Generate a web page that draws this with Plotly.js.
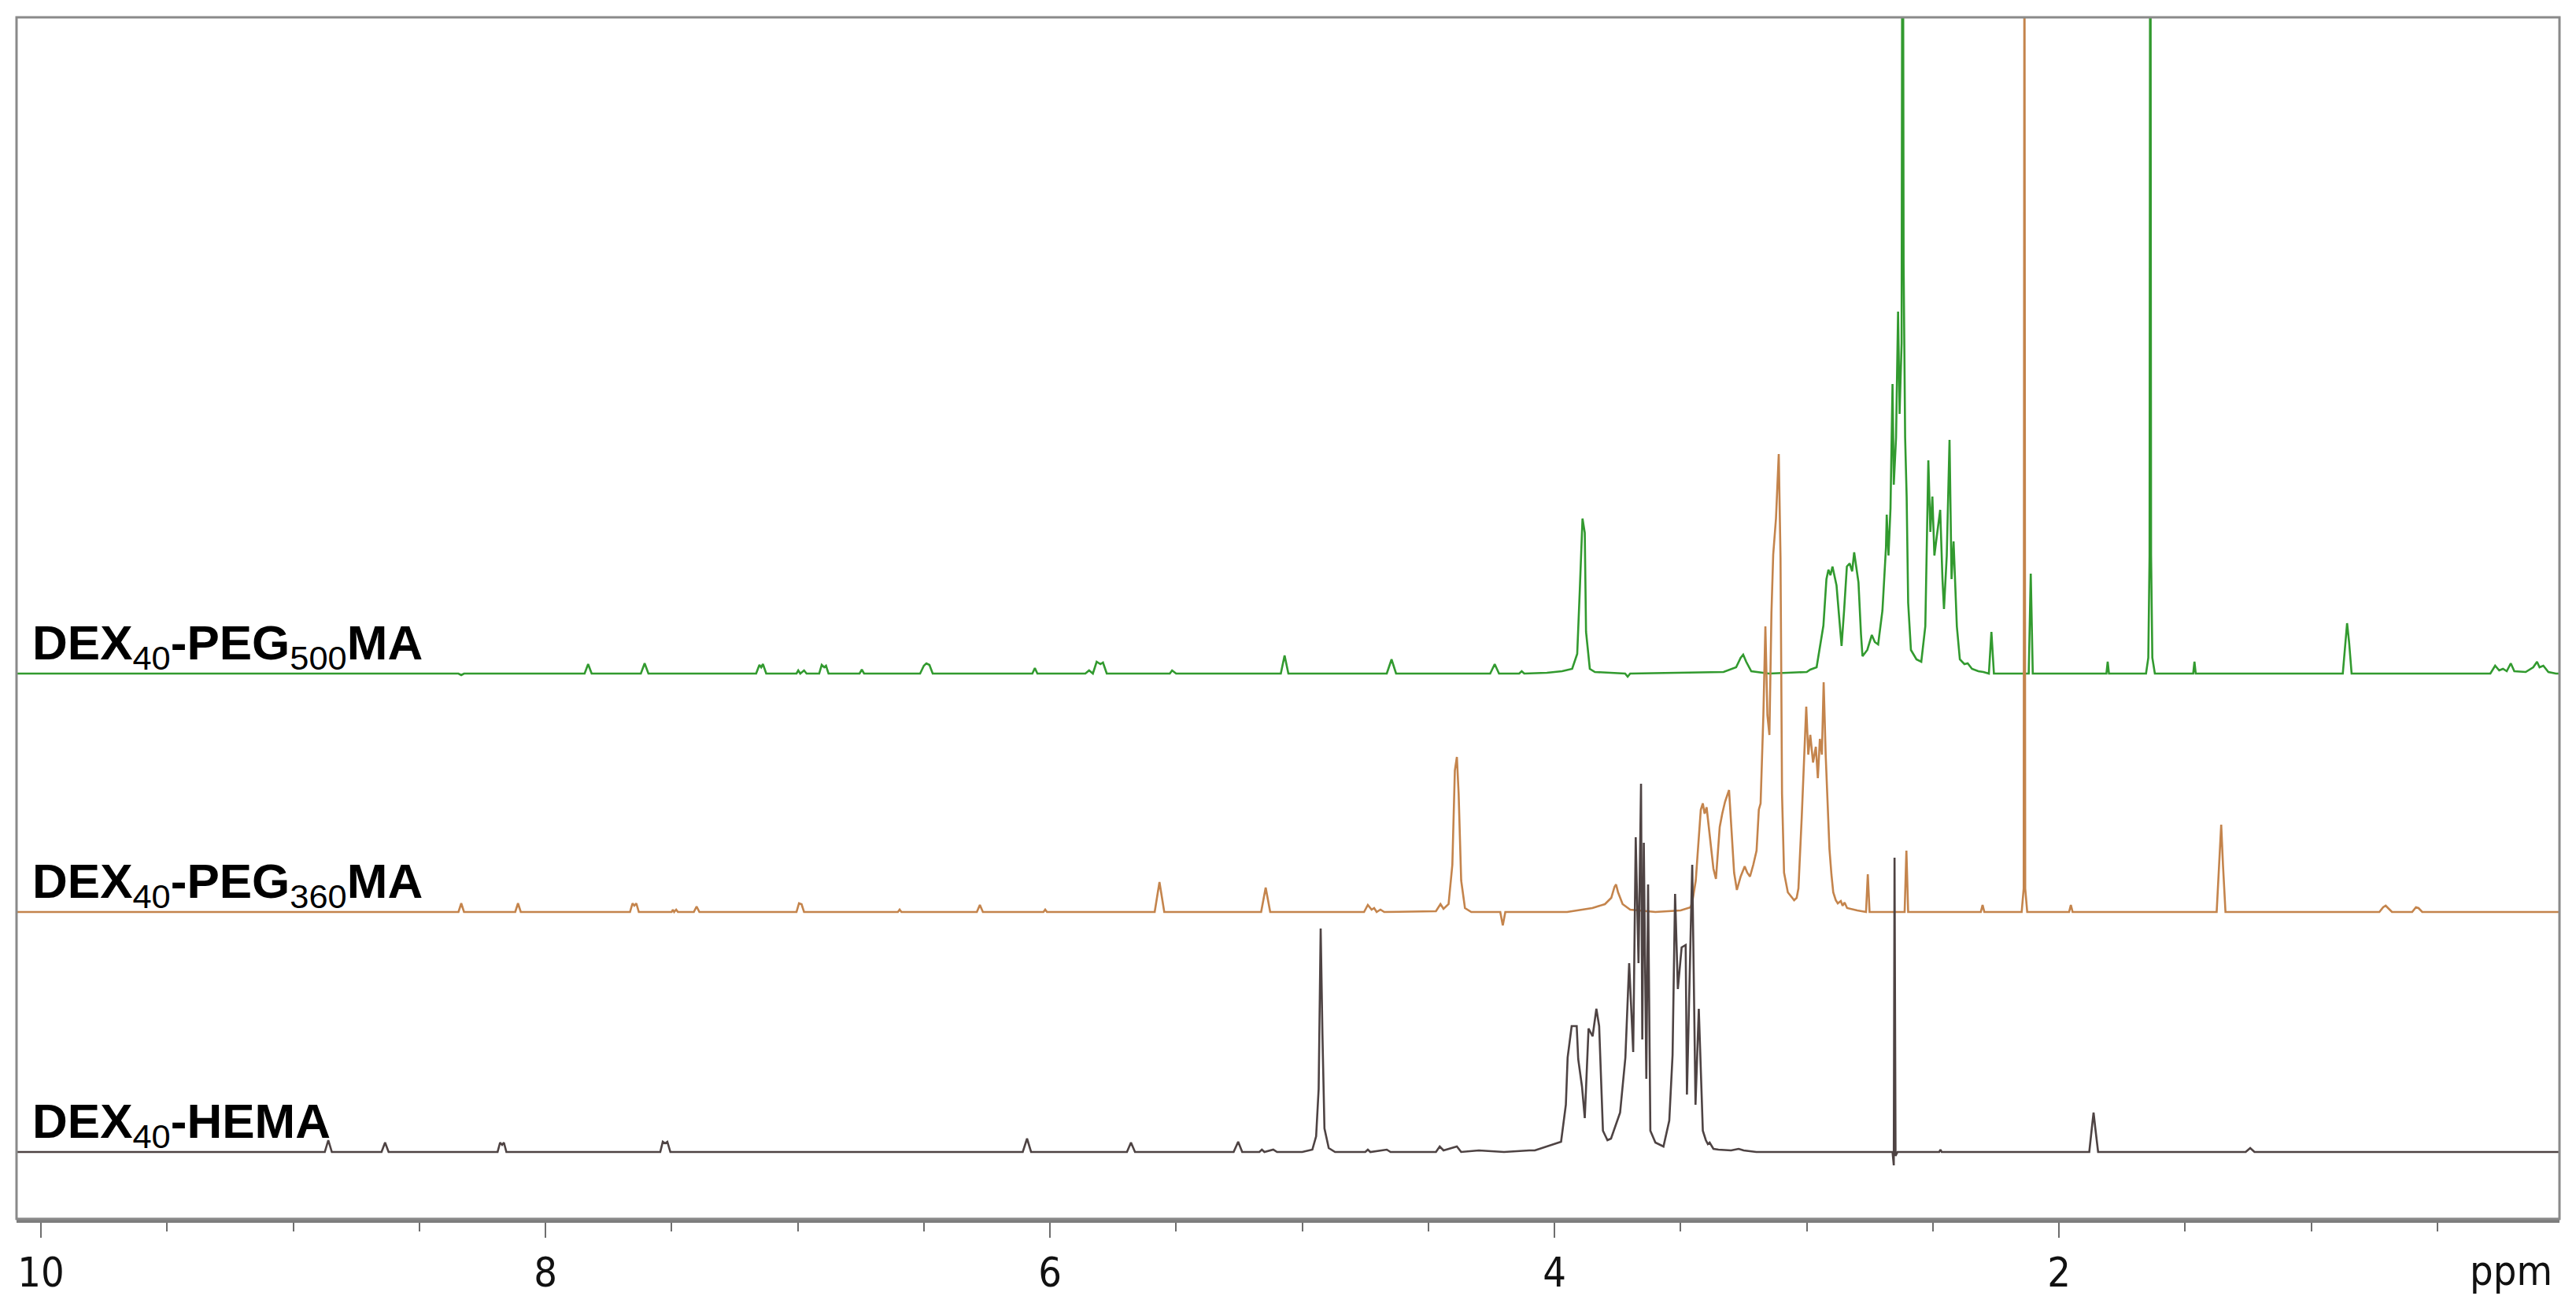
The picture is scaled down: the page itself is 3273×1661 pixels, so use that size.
<!DOCTYPE html>
<html>
<head>
<meta charset="utf-8">
<script src="https://cdn.plot.ly/plotly-3.0.1.min.js"></script>
<style>
  html, body { margin: 0; padding: 0; background: #fff; }
  #nmr { width: 3273px; height: 1661px; }
</style>
</head>
<body>
<div id="nmr"></div>
<script>
// 1H NMR spectra, [ppm, intensity] (intensity in arbitrary units)
const peg500Points = [
  [10.1, 0], [8.345, 0], [8.334, -2], [8.323, 0],
  [7.845, 0], [7.831, 12], [7.817, 0],
  [7.622, 0], [7.607, 13], [7.592, 0],
  [7.165, 0], [7.152, 11], [7.145, 8], [7.138, 12], [7.125, 0],
  [7.005, 0], [6.998, 4], [6.99, 0], [6.975, 4], [6.965, 0],
  [6.915, 0], [6.905, 11], [6.895, 8], [6.888, 10], [6.878, 0],
  [6.755, 0], [6.746, 5], [6.737, 0],
  [6.515, 0], [6.5, 10], [6.49, 13], [6.478, 11], [6.465, 0],
  [6.07, 0], [6.06, 7], [6.05, 0],
  [5.86, 0], [5.845, 4], [5.83, 0], [5.815, 15], [5.8, 12], [5.79, 14], [5.775, 0],
  [5.525, 0], [5.516, 4], [5.5, 0],
  [5.085, 0], [5.07, 23], [5.055, 0],
  [4.665, 0], [4.646, 18], [4.628, 0],
  [4.255, 0], [4.237, 12], [4.22, 0],
  [4.14, 0], [4.13, 3], [4.12, 0],
  [4.03, 1], [3.97, 3], [3.93, 6], [3.91, 25], [3.9, 104], [3.889, 197], [3.88, 179],
  [3.875, 53], [3.86, 6], [3.84, 2],
  [3.72, 0], [3.71, -4], [3.7, 0],
  [3.33, 2], [3.28, 8], [3.262, 20], [3.252, 24], [3.24, 15], [3.22, 3], [3.15, 0],
  [3.0, 2], [2.986, 5], [2.961, 8], [2.945, 40], [2.934, 61], [2.922, 120], [2.914, 132],
  [2.906, 125], [2.898, 136], [2.882, 112], [2.87, 60], [2.862, 35], [2.852, 80],
  [2.841, 136], [2.83, 140], [2.82, 130], [2.812, 154], [2.795, 116], [2.785, 50],
  [2.779, 22], [2.76, 30], [2.742, 49], [2.73, 40], [2.717, 37], [2.7, 80], [2.686, 160],
  [2.683, 202], [2.676, 150], [2.668, 210], [2.66, 368], [2.655, 240], [2.646, 300],
  [2.638, 460], [2.632, 330], [2.624, 420], [2.62, 1300], [2.616, 520], [2.61, 300],
  [2.604, 225], [2.598, 90], [2.587, 30], [2.565, 18],
  [2.546, 15], [2.53, 60], [2.518, 271], [2.51, 180], [2.502, 225], [2.494, 150],
  [2.487, 168], [2.479, 190], [2.471, 208], [2.462, 120], [2.456, 82], [2.445, 150],
  [2.434, 297], [2.426, 120], [2.418, 168], [2.405, 60], [2.393, 18], [2.375, 12],
  [2.362, 13], [2.345, 6], [2.32, 3], [2.3, 2],
  [2.278, 0], [2.268, 53], [2.258, 0],
  [2.12, 0], [2.112, 127], [2.104, 0],
  [1.812, 0], [1.807, 15], [1.802, 0],
  [1.655, 0], [1.646, 20], [1.641, 150], [1.638, 1300], [1.635, 150], [1.63, 20], [1.62, 0],
  [1.468, 0], [1.463, 15], [1.458, 0],
  [0.875, 0], [0.865, 40], [0.858, 64], [0.85, 40], [0.84, 0],
  [0.29, 0], [0.271, 10], [0.255, 4], [0.24, 6], [0.225, 3], [0.209, 13], [0.195, 3],
  [0.15, 2], [0.12, 8], [0.105, 15], [0.095, 8], [0.08, 10], [0.06, 2], [0.03, 0], [0.0, 0]
];

const peg360Points = [
  [10.1, 0], [8.345, 0], [8.334, 11], [8.323, 0],
  [8.12, 0], [8.109, 11], [8.098, 0],
  [7.665, 0], [7.655, 11], [7.648, 8], [7.64, 11], [7.63, 0],
  [7.5, 0], [7.495, 3], [7.49, 0], [7.482, 3], [7.475, 0],
  [7.412, 0], [7.401, 7], [7.39, 0],
  [7.005, 0], [6.995, 11], [6.985, 10], [6.975, 0],
  [6.603, 0], [6.596, 3], [6.589, 0],
  [6.29, 0], [6.278, 9], [6.266, 0],
  [6.026, 0], [6.019, 3], [6.012, 0],
  [5.585, 0], [5.566, 38], [5.547, 0],
  [5.163, 0], [5.145, 31], [5.127, 0],
  [4.755, 0], [4.74, 9], [4.725, 3], [4.715, 5], [4.705, 0], [4.69, 3], [4.675, 0],
  [4.47, 1], [4.452, 10], [4.44, 4], [4.42, 10], [4.405, 60], [4.395, 180], [4.387, 197],
  [4.38, 150], [4.37, 40], [4.355, 5], [4.33, 0],
  [4.215, 0], [4.205, -17], [4.195, 0],
  [3.95, 0], [3.85, 5], [3.8, 10], [3.775, 18], [3.762, 32], [3.756, 35], [3.748, 25],
  [3.73, 10], [3.7, 3], [3.6, 0], [3.5, 2], [3.46, 6], [3.454, 12],
  [3.44, 40], [3.433, 72], [3.42, 130], [3.412, 138], [3.405, 125], [3.397, 133],
  [3.385, 100], [3.37, 55], [3.36, 42], [3.352, 80], [3.345, 108], [3.335, 125],
  [3.324, 140], [3.308, 155], [3.298, 105], [3.288, 50], [3.277, 28], [3.262, 45],
  [3.246, 58], [3.236, 50], [3.225, 45], [3.212, 60], [3.199, 78], [3.19, 130],
  [3.183, 138], [3.179, 174], [3.172, 250], [3.164, 363], [3.156, 250], [3.148, 225],
  [3.14, 380], [3.133, 454], [3.122, 500], [3.111, 582], [3.104, 450], [3.098, 150],
  [3.09, 50], [3.075, 25], [3.064, 21], [3.05, 15], [3.04, 18], [3.033, 30], [3.02, 120],
  [3.01, 200], [3.002, 261], [2.994, 200], [2.986, 225], [2.975, 190], [2.964, 210],
  [2.956, 170], [2.948, 220], [2.94, 200], [2.933, 292], [2.925, 200], [2.917, 138],
  [2.91, 80], [2.902, 47], [2.895, 25], [2.885, 15], [2.877, 11], [2.865, 14],
  [2.858, 8], [2.85, 12], [2.84, 5], [2.8, 2],
  [2.765, 0], [2.758, 48], [2.751, 0],
  [2.612, 0], [2.605, 78], [2.598, 0],
  [2.31, 0], [2.303, 9], [2.296, 0],
  [2.148, 0], [2.14, 30], [2.137, 1400], [2.134, 30], [2.126, 0],
  [1.96, 0], [1.953, 9], [1.946, 0],
  [1.375, 0], [1.365, 60], [1.357, 111], [1.35, 60], [1.34, 0],
  [0.73, 0], [0.715, 6], [0.705, 8], [0.695, 5], [0.68, 0],
  [0.6, 0], [0.585, 6], [0.575, 5], [0.56, 0], [0.0, 0]
];

const hemaPoints = [
  [10.1, 0], [8.875, 0], [8.861, 15], [8.847, 0],
  [8.65, 0], [8.636, 12], [8.622, 0],
  [8.19, 0], [8.18, 12], [8.172, 9], [8.165, 12], [8.155, 0],
  [7.545, 0], [7.535, 13], [7.526, 11], [7.517, 13], [7.505, 0],
  [6.108, 0], [6.091, 17], [6.075, 0],
  [5.695, 0], [5.679, 12], [5.663, 0],
  [5.272, 0], [5.254, 13], [5.238, 0],
  [5.17, 0], [5.16, 3], [5.15, 0], [5.115, 3], [5.1, 0],
  [5.0, 0], [4.96, 3], [4.945, 20], [4.935, 80], [4.927, 284], [4.92, 150], [4.912, 30],
  [4.895, 5], [4.87, 0],
  [4.75, 0], [4.74, 3], [4.73, 0], [4.665, 3], [4.65, 0],
  [4.47, 0], [4.455, 7], [4.44, 2], [4.387, 7], [4.37, 0], [4.3, 2], [4.2, 0],
  [4.1, 2], [4.078, 2], [3.974, 13], [3.955, 60], [3.948, 120], [3.932, 160], [3.912, 160],
  [3.906, 118], [3.891, 83], [3.88, 43], [3.865, 157], [3.849, 147], [3.834, 182],
  [3.823, 160], [3.808, 27], [3.79, 15], [3.776, 17], [3.74, 50], [3.719, 120],
  [3.704, 240], [3.688, 127], [3.678, 400], [3.667, 240], [3.657, 468], [3.652, 143],
  [3.646, 393], [3.636, 93], [3.629, 340], [3.62, 27], [3.6, 12], [3.568, 7],
  [3.545, 40], [3.532, 123], [3.522, 328], [3.511, 207], [3.496, 260], [3.48, 263],
  [3.475, 73], [3.454, 365], [3.441, 60], [3.428, 182], [3.412, 27], [3.4, 15],
  [3.392, 10], [3.385, 12], [3.37, 4], [3.35, 3], [3.3, 2], [3.27, 4], [3.25, 2], [3.2, 0],
  [2.66, 0], [2.655, -17], [2.652, 374], [2.648, -5], [2.64, 0],
  [2.475, 0], [2.47, 3], [2.465, 0],
  [1.88, 0], [1.87, 30], [1.863, 50], [1.856, 30], [1.845, 0],
  [1.26, 0], [1.242, 5], [1.225, 0], [0.0, 0]
];

const seriesNames = [
  "<b>DEX</b><sub>40</sub><b>-PEG</b><sub>500</sub><b>MA</b>",
  "<b>DEX</b><sub>40</sub><b>-PEG</b><sub>360</sub><b>MA</b>",
  "<b>DEX</b><sub>40</sub><b>-HEMA</b>"
];
const tickPpm = [10, 8, 6, 4, 2];
const tickLabels = ["10", "8", "6", "4", "2"];

// stacking of the three spectra (vertical shift of each baseline)
const offsets = [693, 390, 85];
const colors = ["#329a2f", "#c4844c", "#4e4343"];

const spectrumTrace = function (points, offset, color) {
  return {
    x: points.map((p) => p[0]),
    y: points.map((p) => p[1] + offset),
    type: "scatter",
    mode: "lines",
    line: { color: color, width: 2.6 },
    hoverinfo: "skip",
    showlegend: false,
  };
};

let data = [
  spectrumTrace(peg500Points, offsets[0], colors[0]),
  spectrumTrace(peg360Points, offsets[1], colors[1]),
  spectrumTrace(hemaPoints, offsets[2], colors[2]),
];

let annotations = seriesNames.map((name, i) => ({
  text: name,
  xref: "paper",
  x: 0.0055,
  xanchor: "left",
  yref: "y",
  y: offsets[i],
  yanchor: "bottom",
  yshift: -6,
  showarrow: false,
  font: { family: "Liberation Sans, Arial, sans-serif", size: 62, color: "#000" },
}));

annotations.push({
  text: "ppm",
  xref: "paper",
  x: 0.981,
  xanchor: "center",
  yref: "paper",
  y: -0.043,
  yanchor: "middle",
  showarrow: false,
  font: { family: "Liberation Sans Narrow, DejaVu Sans Condensed, Liberation Sans, sans-serif", size: 52, color: "#111" },
});

let layout = {
  width: 3273,
  height: 1661,
  margin: { l: 21, r: 21, t: 22, b: 112 },
  paper_bgcolor: "#fff",
  plot_bgcolor: "#fff",
  showlegend: false,
  xaxis: {
    range: [10.097, 0.016],
    tickmode: "array",
    tickvals: tickPpm,
    ticktext: tickLabels,
    ticks: "outside",
    ticklen: 19,
    tickwidth: 2,
    tickcolor: "#6e6e6e",
    minor: { tick0: 0, dtick: 0.5, ticks: "outside", ticklen: 11, tickwidth: 2, tickcolor: "#6e6e6e" },
    showline: true,
    linecolor: "#7d7d7d",
    linewidth: 5,
    showgrid: false,
    zeroline: false,
    tickfont: { family: "Liberation Sans Narrow, DejaVu Sans Condensed, Liberation Sans, sans-serif", size: 52, color: "#111" },
  },
  yaxis: {
    range: [0, 1527],
    visible: false,
    showgrid: false,
    zeroline: false,
  },
  shapes: [
    {
      type: "rect",
      xref: "paper",
      yref: "paper",
      x0: 0,
      x1: 1,
      y0: 0,
      y1: 1,
      line: { color: "#8a8a8a", width: 3 },
    },
  ],
  annotations: annotations,
};

Plotly.newPlot("nmr", data, layout, { displayModeBar: false, staticPlot: true });
</script>
</body>
</html>
